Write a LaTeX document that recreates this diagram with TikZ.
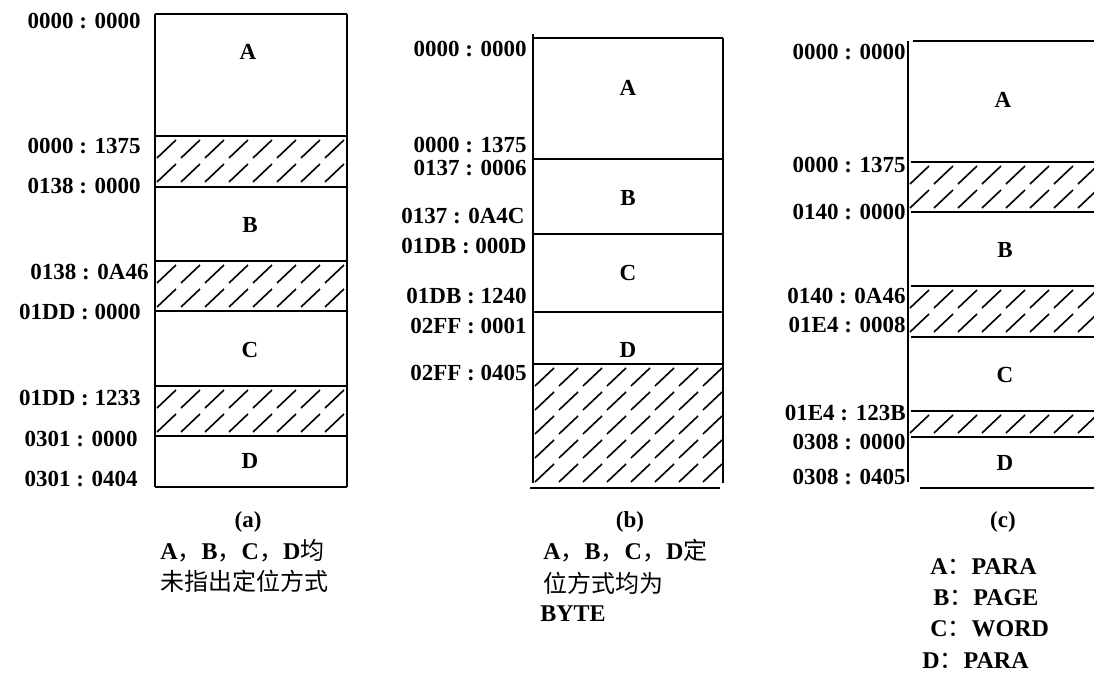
\documentclass[tikz,border=0pt]{standalone}
\usepackage{fontspec}
\setmainfont{Liberation Serif}
\newfontfamily\cjkfont{Noto Sans CJK SC}
\newcommand\zh[1]{{\cjkfont\mdseries #1}}
\newcommand\hatchband[4]{% x0, x1, ytop, rows
  \begin{scope}
    \clip (#1,#3) rectangle (#2,{#3+24*#4+4});
    \foreach \r in {1,...,#4}{
      \foreach \i in {0,...,7}{
        \draw[hatchln] ({#1+2+24*\i},{#3-2+24*\r}) -- ({#1+21+24*\i},{#3-20+24*\r});
      }
    }
  \end{scope}}
\begin{document}
\begin{tikzpicture}[x=0.5pt,y=-0.5pt,
  lbl/.style={anchor=east, font=\fontsize{11.5}{13}\selectfont\bfseries, inner sep=0pt},
  reg/.style={font=\fontsize{11.5}{13}\selectfont\bfseries, inner sep=0pt},
  captxt/.style={font=\fontsize{11.5}{13}\selectfont\bfseries, inner sep=0pt},
  capl/.style={anchor=west, font=\fontsize{12}{14}\selectfont\bfseries, inner sep=0pt},
  boxln/.style={line width=0.75pt},
  hatchln/.style={line width=0.8pt}]
\useasboundingbox (0,0) rectangle (1094,685);

% ---------- panel (a)
\draw[boxln] (155,14) -- (347,14);
\draw[boxln] (155,14) -- (155,487);
\draw[boxln] (347,14) -- (347,487);
\foreach \y in {136,187,261,311,386,436,487}{\draw[boxln] (155,\y) -- (347,\y);}
\hatchband{155}{347}{136}{2}
\hatchband{155}{347}{261}{2}
\hatchband{155}{347}{386}{2}
\node[lbl] (a1) at (141,21) {0000 : 0000};
\node[lbl] (a2) at (141,146) {0000 : 1375};
\node[lbl] (a3) at (141,186) {0138 : 0000};
\node[lbl] (a4) at (149,272) {0138 : 0A46};
\node[lbl] (a5) at (141,312) {01DD : 0000};
\node[lbl] (a6) at (141,398) {01DD : 1233};
\node[lbl] (a7) at (138,439) {0301 : 0000};
\node[lbl] (a8) at (138,479) {0301 : 0404};
\node[reg] (aA) at (248,52) {A};
\node[reg] (aB) at (250,225) {B};
\node[reg] (aC) at (250,350) {C};
\node[reg] (aD) at (250,461) {D};
\node[captxt] (acap) at (248,522) {(a)};
\node[capl] (acap1) at (160,551) {A\zh{，}B\zh{，}C\zh{，}D\zh{均}};
\node[capl] (acap2) at (160,581) {\zh{未指出定位方式}};

% ---------- panel (b)
\draw[boxln] (533,38) -- (723,38);
\draw[boxln] (533,34) -- (533,483);
\draw[boxln] (723,38) -- (723,483);
\foreach \y in {159,234,312,364}{\draw[boxln] (533,\y) -- (723,\y);}
\draw[boxln] (530,488) -- (720,488);
\hatchband{533}{723}{364}{5}
\node[lbl] (b1) at (527,49) {0000 : 0000};
\node[lbl] (b2) at (527,145) {0000 : 1375};
\node[lbl] (b3) at (527,168) {0137 : 0006};
\node[lbl] (b4) at (525,216) {0137 : 0A4C};
\node[lbl] (b5) at (527,246) {01DB : 000D};
\node[lbl] (b6) at (527,296) {01DB : 1240};
\node[lbl] (b7) at (527,326) {02FF : 0001};
\node[lbl] (b8) at (527,373) {02FF : 0405};
\node[reg] (bA) at (628,88) {A};
\node[reg] (bB) at (628,198) {B};
\node[reg] (bC) at (628,273) {C};
\node[reg] (bD) at (628,350) {D};
\node[captxt] (bcap) at (630,522) {(b)};
\node[capl] (bcap1) at (543,551) {A\zh{，}B\zh{，}C\zh{，}D\zh{定}};
\node[capl] (bcap2) at (543,583) {\zh{位方式均为}};
\node[capl] (bcap3) at (540,614) {BYTE};

% ---------- panel (c)
\draw[boxln] (913,41) -- (1094,41);
\draw[boxln] (908,41) -- (908,482);
\foreach \y in {162,212,286,337,411,437}{\draw[boxln] (911,\y) -- (1094,\y);}
\draw[boxln] (920,488) -- (1094,488);
\hatchband{908}{1094}{162}{2}
\hatchband{908}{1094}{286}{2}
\hatchband{908}{1094}{411}{1}
\node[lbl] (c1) at (906,52) {0000 : 0000};
\node[lbl] (c2) at (906,165) {0000 : 1375};
\node[lbl] (c3) at (906,212) {0140 : 0000};
\node[lbl] (c4) at (906,296) {0140 : 0A46};
\node[lbl] (c5) at (906,325) {01E4 : 0008};
\node[lbl] (c6) at (906,413) {01E4 : 123B};
\node[lbl] (c7) at (906,442) {0308 : 0000};
\node[lbl] (c8) at (906,477) {0308 : 0405};
\node[reg] (cA) at (1003,100) {A};
\node[reg] (cB) at (1005,250) {B};
\node[reg] (cC) at (1005,375) {C};
\node[reg] (cD) at (1005,463) {D};
\node[captxt] (ccap) at (1003,522) {(c)};
\node[capl] (ccap1) at (930,567) {A\zh{：}PARA};
\node[capl] (ccap2) at (933,598) {B\zh{：}PAGE};
\node[capl] (ccap3) at (930,629) {C\zh{：}WORD};
\node[capl] (ccap4) at (922,661) {D\zh{：}PARA};
\end{tikzpicture}
\end{document}
